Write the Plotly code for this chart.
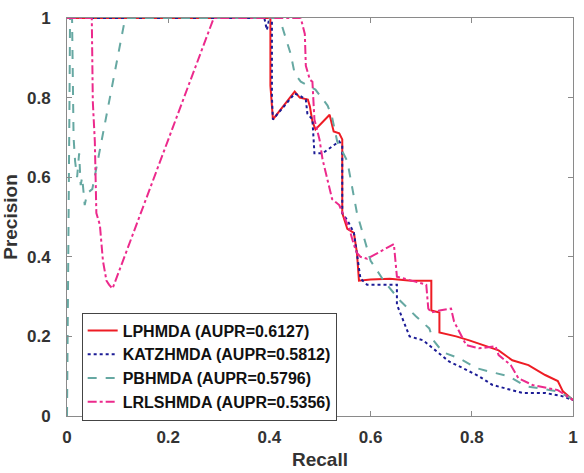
import plotly.graph_objects as go

# Precision-recall curves.
lp_recall = [0, 0.40, 0.402, 0.402, 0.407, 0.45, 0.46, 0.476, 0.48, 0.485, 0.491, 0.519, 0.527, 0.538,
             0.544, 0.544, 0.554, 0.567, 0.573, 0.577, 0.6, 0.638, 0.68, 0.716, 0.72, 0.72, 0.736,
             0.736, 0.769, 0.795, 0.82, 0.853, 0.88, 0.912, 0.945, 0.97, 0.98, 1.0]
lp_prec = [1, 1, 1, 0.83, 0.745, 0.815, 0.80, 0.795, 0.778, 0.74, 0.72, 0.757, 0.715, 0.71,
           0.695, 0.51, 0.47, 0.46, 0.41, 0.34, 0.343, 0.345, 0.34, 0.34, 0.34, 0.265, 0.26,
           0.21, 0.2, 0.19, 0.18, 0.165, 0.14, 0.128, 0.103, 0.088, 0.062, 0.04]

katz_recall = [0, 0.39, 0.395, 0.4, 0.405, 0.405, 0.407, 0.45, 0.46, 0.472, 0.475, 0.485, 0.489,
               0.505, 0.538, 0.544, 0.544, 0.555, 0.567, 0.573, 0.58, 0.593, 0.652, 0.652, 0.665,
               0.677, 0.704, 0.736, 0.755, 0.783, 0.814, 0.841, 0.867, 0.9, 0.945, 0.978, 1.0]
katz_prec = [1, 1, 0.97, 1, 1, 0.8, 0.745, 0.81, 0.805, 0.795, 0.76, 0.745, 0.66,
             0.66, 0.69, 0.68, 0.51, 0.49, 0.46, 0.41, 0.345, 0.33, 0.33, 0.28, 0.24,
             0.2, 0.19, 0.158, 0.137, 0.12, 0.10, 0.078, 0.07, 0.058, 0.058, 0.05, 0.04]

pb_recall = [0, 0.003, 0.005, 0.006, 0.01, 0.012, 0.013, 0.016, 0.02, 0.024, 0.027, 0.03, 0.035,
             0.04, 0.05, 0.115, 0.42, 0.442, 0.45, 0.462, 0.491, 0.515, 0.524, 0.534, 0.554,
             0.573, 0.587, 0.6, 0.626, 0.658, 0.69, 0.716, 0.724, 0.743, 0.775, 0.81, 0.84,
             0.873, 0.906, 0.93, 0.97, 1.0]
pb_prec = [0, 0.4, 0.8, 1, 1, 0.8, 0.7, 0.64, 0.6, 0.66, 0.58, 0.6, 0.53,
           0.56, 0.57, 1, 1, 0.91, 0.86, 0.84, 0.82, 0.78, 0.75, 0.69, 0.64,
           0.51, 0.445, 0.39, 0.34, 0.29, 0.25, 0.22, 0.19, 0.16, 0.145, 0.12, 0.11,
           0.10, 0.075, 0.07, 0.062, 0.042]

lrls_recall = [0, 0.049, 0.051, 0.055, 0.058, 0.065, 0.071, 0.078, 0.083, 0.09, 0.29, 0.462,
               0.47, 0.472, 0.48, 0.485, 0.489, 0.499, 0.505, 0.515, 0.524, 0.538, 0.548, 0.558,
               0.567, 0.573, 0.58, 0.593, 0.646, 0.652, 0.69, 0.71, 0.714, 0.72, 0.736, 0.759,
               0.765, 0.789, 0.814, 0.847, 0.853, 0.877, 0.892, 0.92, 0.97, 1.0]
lrls_prec = [1, 1, 0.79, 0.69, 0.51, 0.48, 0.39, 0.34, 0.33, 0.32, 1, 1,
             0.96, 0.88, 0.845, 0.84, 0.745, 0.695, 0.645, 0.595, 0.545, 0.53, 0.50, 0.47,
             0.43, 0.41, 0.40, 0.395, 0.432, 0.35, 0.337, 0.33, 0.27, 0.26, 0.265, 0.27,
             0.237, 0.178, 0.17, 0.175, 0.153, 0.128, 0.095, 0.078, 0.065, 0.04]

names = ["LPHMDA (AUPR=0.6127)", "KATZHMDA (AUPR=0.5812)",
         "PBHMDA (AUPR=0.5796)", "LRLSHMDA (AUPR=0.5356)"]
tick_vals = [0, 0.2, 0.4, 0.6, 0.8, 1]
tick_text = ["0", "0.2", "0.4", "0.6", "0.8", "1"]

series = [
    (lp_recall, lp_prec, "#ee1c24", "solid"),
    (katz_recall, katz_prec, "#1c1c96", "dot"),
    (pb_recall, pb_prec, "#66a8a2", "dash"),
    (lrls_recall, lrls_prec, "#ec2a8c", "dashdot"),
]

fig = go.Figure()
for (x, y, color, dash), name in zip(series, names):
    fig.add_trace(go.Scatter(x=x, y=y, mode="lines", name=name,
                             line=dict(color=color, width=2, dash=dash)))

font = "Liberation Sans, Arial, sans-serif"
axis_style = dict(
    range=[0, 1], tickvals=tick_vals, ticktext=tick_text,
    showgrid=False, zeroline=False, showline=True, linecolor="#8a8a8a", linewidth=1,
    mirror="ticks", ticks="inside", ticklen=5, tickcolor="#8a8a8a",
    tickfont=dict(family=font, size=17, color="#333333", weight="bold"),
)

fig.update_layout(
    width=584, height=473,
    margin=dict(l=67, r=6, t=18, b=55),
    plot_bgcolor="white", paper_bgcolor="white",
    xaxis=dict(axis_style, ticklabelstandoff=6,
               title=dict(text="Recall", standoff=6,
                          font=dict(family=font, size=19, color="#333333", weight="bold"))),
    yaxis=dict(axis_style, ticklabelstandoff=12,
               title=dict(text="Precision", standoff=4,
                          font=dict(family=font, size=19, color="#333333", weight="bold"))),
    legend=dict(x=0.029, y=0.26, xanchor="left", yanchor="top",
                bgcolor="white", bordercolor="#444444", borderwidth=1,
                font=dict(family=font, size=16, color="#111111", weight="bold")),
    showlegend=True,
)

# The page body has a default 8px margin; drop it so the figure fills the window.
fig.write_html("out.html", config={"displayModeBar": False},
               post_script="document.body.style.margin='0';")
